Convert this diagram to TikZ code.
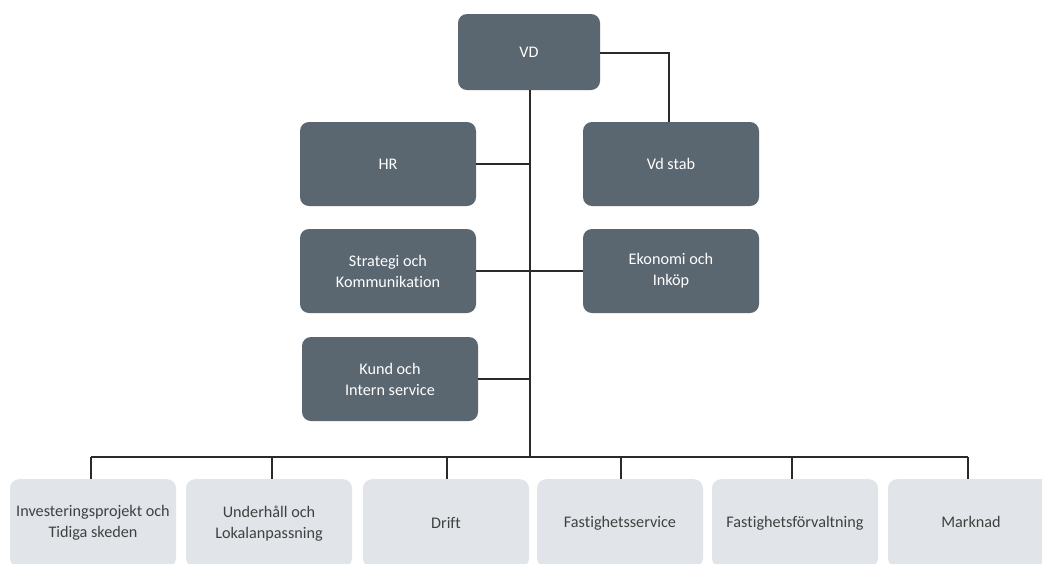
\documentclass[tikz,border=0pt]{standalone}
\usepackage{fontspec}
\setmainfont{Carlito}[Ligatures={NoCommon}]
\definecolor{darkbox}{HTML}{5A6670}
\definecolor{lightbox}{HTML}{E1E5E9}
\definecolor{lighttext}{HTML}{404040}
\definecolor{linecol}{HTML}{2A2A2A}
\tikzset{
  topbox/.style={rectangle, rounded corners=9pt, fill=darkbox, text=white, align=center,
    minimum width=176pt, minimum height=84pt, font=\fontsize{16.2}{21}\selectfont, inner sep=0pt},
  unitbox/.style={rectangle, rounded corners=9pt, fill=lightbox, text=lighttext, align=center,
    minimum width=166pt, minimum height=88pt, font=\fontsize{16.2}{21}\selectfont, inner sep=0pt},
  conn/.style={draw=linecol, line width=1.1pt}
}
\begin{document}
\begin{tikzpicture}[x=1pt,y=-1pt]
\useasboundingbox (0,0) rectangle (1042,563);
\clip (0,0) rectangle (1042,563);
\fill[white] (0,0) rectangle (1042,563);
% top level
\node[topbox, minimum width=142pt, minimum height=76pt] (vd) at (529,52) {VD};
\node[topbox] (hr) at (388,164) {HR};
\node[topbox] (vdstab) at (671,164) {Vd stab};
\node[topbox] (strat) at (388,271) {Strategi och\\Kommunikation};
\node[topbox] (eko) at (671,271) {Ekonomi och\\Inköp};
\node[topbox] (kund) at (390,379) {Kund och\\Intern service};
% units
\node[unitbox, anchor=north] (inv) at (93,479) {Investeringsprojekt och\\Tidiga skeden};
\node[unitbox, anchor=north] (und) at (269,479) {Underhåll och\\Lokalanpassning};
\node[unitbox, anchor=north] (drift) at (446,479) {Drift};
\node[unitbox, anchor=north] (fserv) at (620,479) {Fastighetsservice};
\node[unitbox, anchor=north] (fforv) at (795,479) {Fastighetsförvaltning};
\node[unitbox, anchor=north] (mark) at (971,479) {\raisebox{3pt}{Marknad}};
% coordinates
\coordinate (trunk) at (530,90);
\coordinate (bus) at (530,457);
\coordinate (busL) at (91,457);
\coordinate (busR) at (968,457);
\coordinate (stabcorner) at (669,53);
% connectors
\draw[conn] (trunk) -- (bus);
\draw[conn] (vd.east |- stabcorner) -- (stabcorner) -- (stabcorner |- vdstab.north);
\draw[conn] (hr.east) -- (trunk |- hr.east);
\draw[conn] (strat.east) -- (eko.west);
\draw[conn] (kund.east) -- (trunk |- kund.east);
\draw[conn] (busL) -- (busR);
\draw[conn] (busL) -- (busL |- inv.north);
\draw[conn] (272,457) -- (272,479);
\draw[conn] (447,457) -- (447,479);
\draw[conn] (621,457) -- (621,479);
\draw[conn] (792,457) -- (792,479);
\draw[conn] (busR) -- (busR |- mark.north);
\end{tikzpicture}
\end{document}
